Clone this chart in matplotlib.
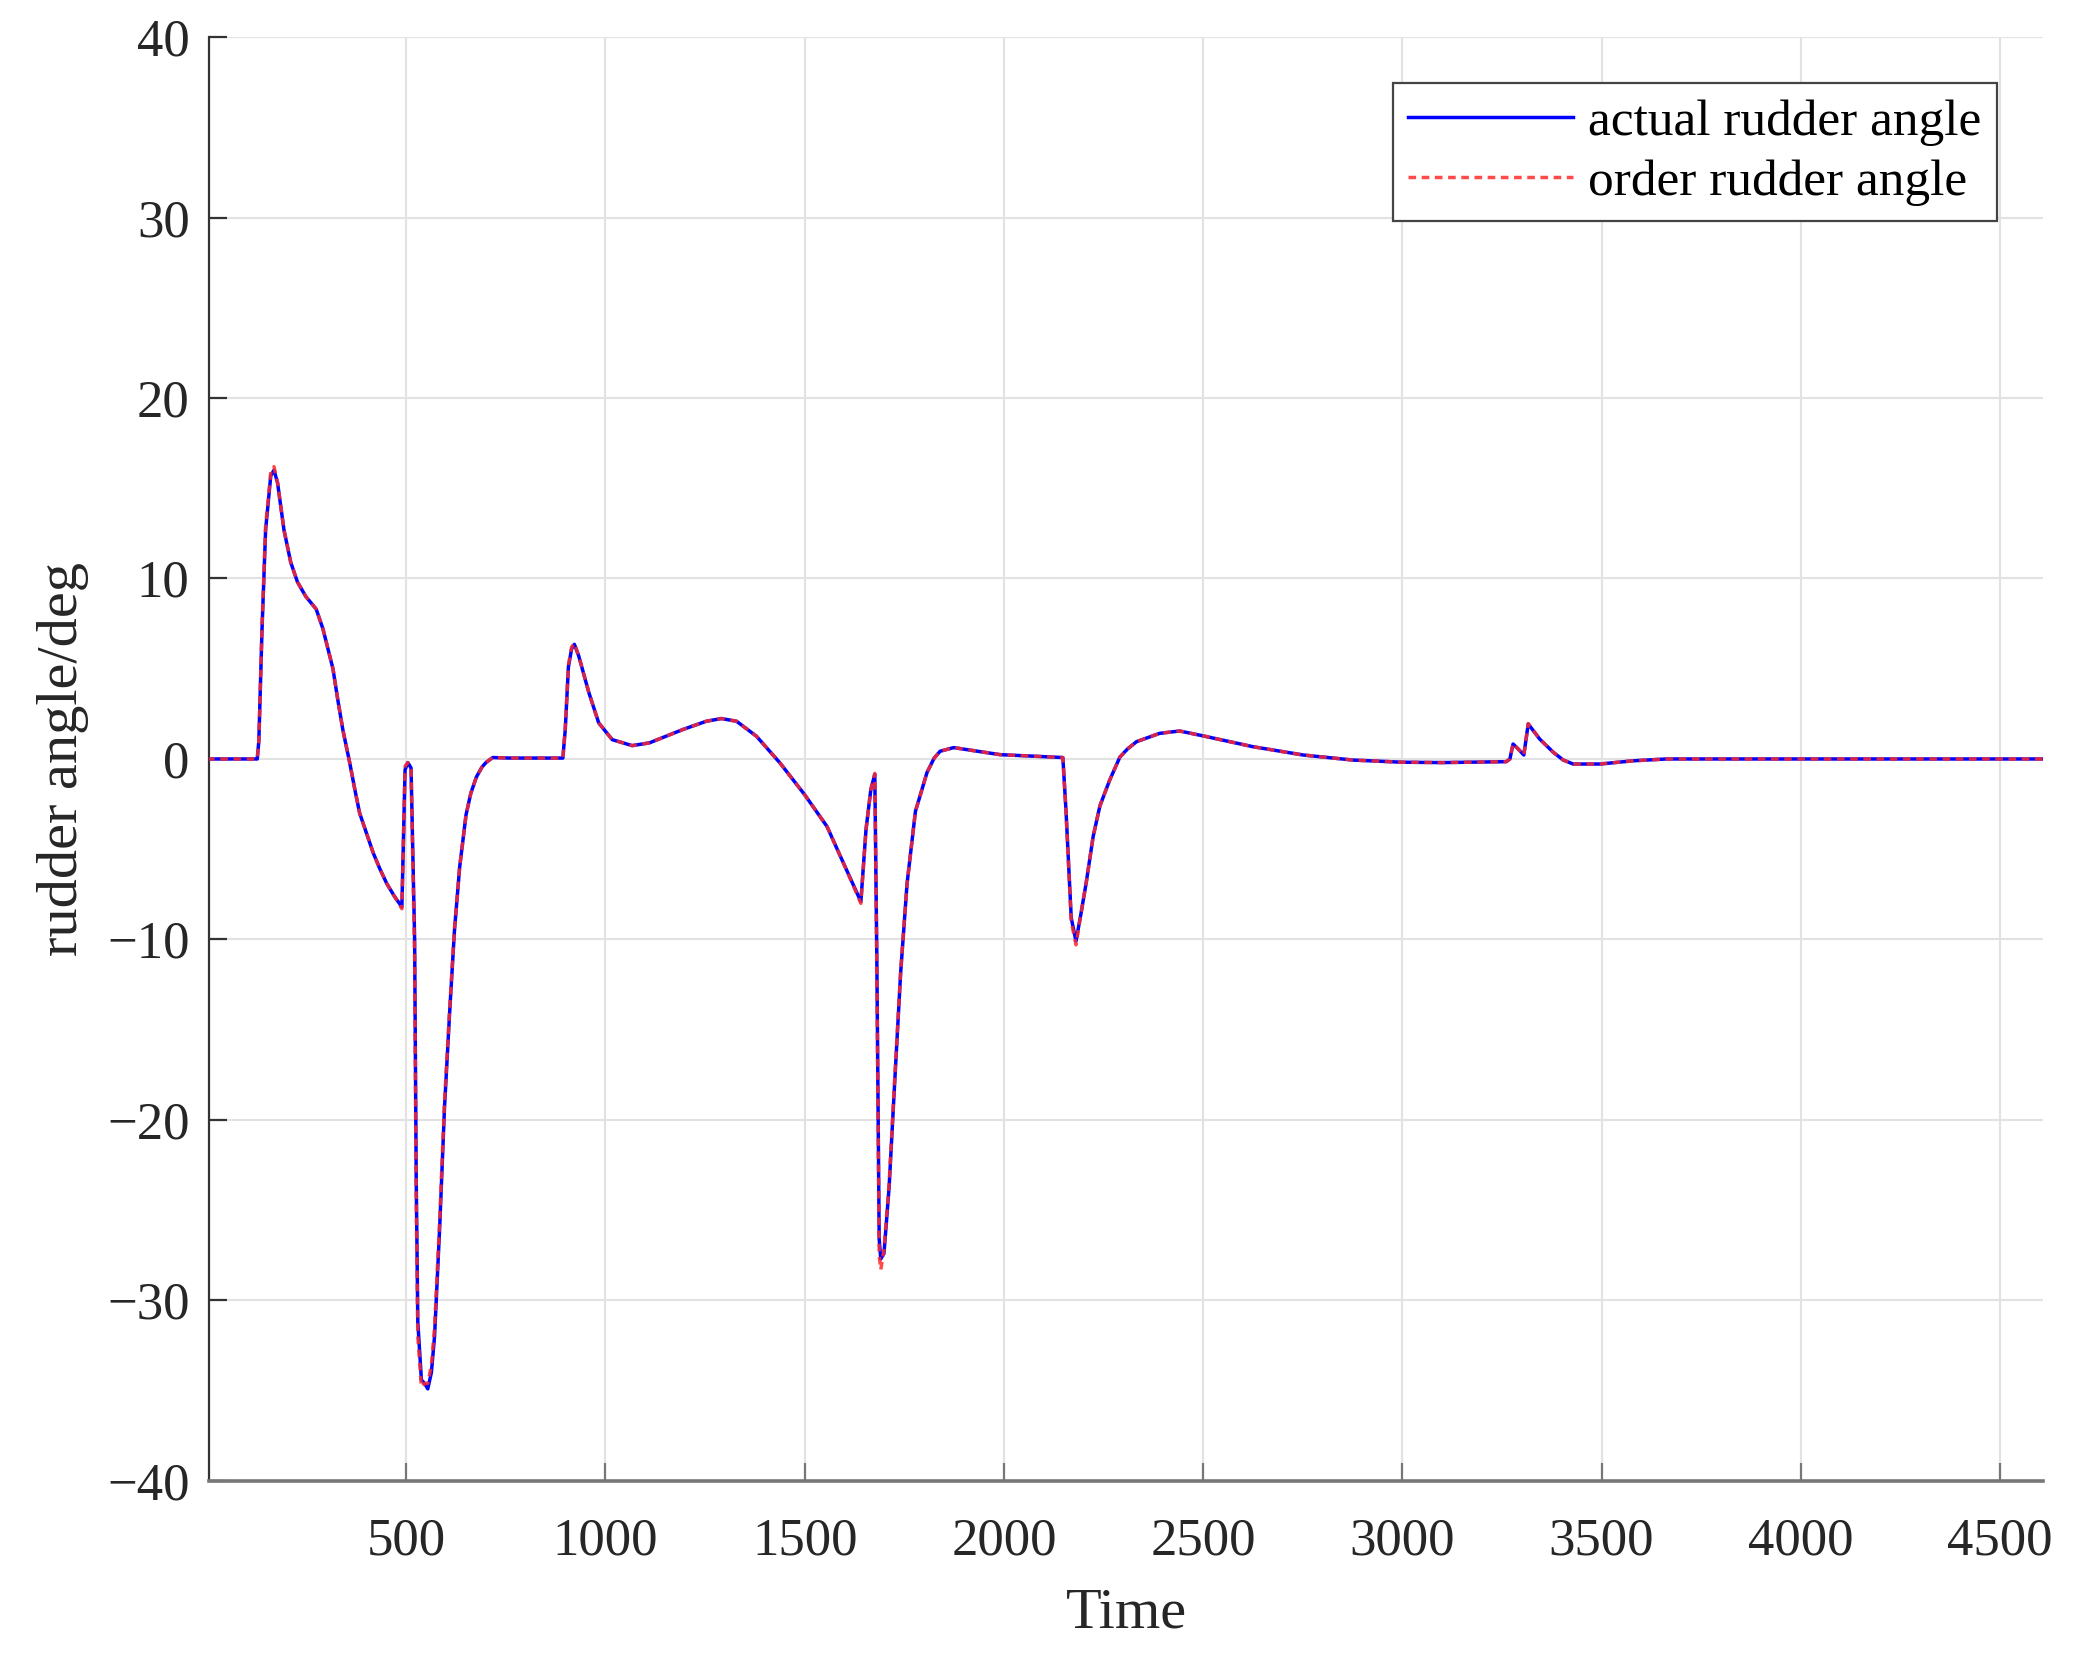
import matplotlib
matplotlib.use("Agg")
import matplotlib.pyplot as plt
from matplotlib.ticker import FixedLocator, FuncFormatter

# ---- data ----
time = [0, 126, 130, 138, 147, 160, 168, 177, 193, 210, 227, 248, 274, 291, 316, 328, 341, 358,
        371, 383, 400, 417, 434, 451, 470, 489, 497, 504, 512, 521, 525, 529, 538, 546, 554,
        563, 571, 584, 596, 609, 621, 634, 650, 662, 676, 690, 700, 717, 760, 893, 899, 907,
        915, 922, 933, 958, 983, 1017, 1067, 1110, 1194, 1253, 1291, 1329, 1379, 1438, 1500,
        1556, 1600, 1641, 1654, 1666, 1676, 1681, 1687, 1691, 1699, 1712, 1724, 1741, 1757,
        1778, 1807, 1825, 1840, 1874, 1990, 2148, 2156, 2169, 2181, 2194, 2207, 2224, 2241,
        2265, 2291, 2310, 2333, 2391, 2441, 2500, 2625, 2751, 2876, 3000, 3100, 3261, 3270,
        3278, 3291, 3305, 3316, 3345, 3379, 3404, 3429, 3496, 3580, 3663, 4608]

actual_rudder = [0, 0, 1.0, 7.2, 12.7, 15.7, 16.0, 15.3, 12.7, 10.9, 9.8, 9.0, 8.3, 7.2, 5.0,
                 3.3, 1.6, -0.2, -1.7, -3.0, -4.1, -5.2, -6.1, -6.9, -7.6, -8.2, -0.6, -0.2,
                 -0.5, -10.0, -23.3, -31.2, -34.4, -34.6, -34.9, -34.0, -32.0, -25.9, -19.3,
                 -14.0, -9.5, -6.0, -3.1, -1.9, -1.0, -0.45, -0.2, 0.08, 0.05, 0.05, 1.6, 5.1,
                 6.1, 6.35, 5.7, 3.7, 2.0, 1.07, 0.74, 0.89, 1.63, 2.09, 2.24, 2.09, 1.26, -0.22,
                 -1.98, -3.74, -5.9, -7.9, -3.9, -1.7, -0.85, -10.8, -26.6, -27.7, -27.4, -23.7,
                 -18.7, -11.8, -6.9, -2.9, -0.75, 0.05, 0.43, 0.63, 0.24, 0.08, -2.9, -8.8,
                 -10.1, -8.5, -6.8, -4.3, -2.6, -1.2, 0.1, 0.55, 0.96, 1.42, 1.55, 1.28, 0.68,
                 0.22, -0.06, -0.18, -0.2, -0.15, 0.0, 0.83, 0.55, 0.22, 1.94, 1.1, 0.37, -0.06,
                 -0.28, -0.28, -0.1, 0.0, 0.0]

order_rudder = [0, 0, 1.0, 7.4, 12.9, 15.9, 16.2, 15.3, 12.7, 10.9, 9.8, 9.0, 8.3, 7.2, 5.0,
                3.3, 1.6, -0.2, -1.7, -3.0, -4.1, -5.2, -6.1, -6.9, -7.6, -8.3, -0.4, -0.2,
                -0.6, -11.0, -24.5, -32.0, -34.8, -34.6, -34.6, -33.6, -31.5, -25.5, -19.0,
                -13.8, -9.4, -6.0, -3.1, -1.9, -1.0, -0.45, -0.2, 0.08, 0.05, 0.05, 1.7, 5.2,
                6.2, 6.4, 5.7, 3.7, 2.0, 1.07, 0.74, 0.89, 1.63, 2.09, 2.24, 2.09, 1.26, -0.22,
                -1.98, -3.74, -5.9, -8.0, -3.9, -1.7, -0.8, -11.5, -27.5, -28.3, -27.2, -23.5,
                -18.5, -11.7, -6.9, -2.9, -0.75, 0.05, 0.43, 0.63, 0.24, 0.08, -3.0, -9.0,
                -10.3, -8.5, -6.8, -4.3, -2.6, -1.2, 0.1, 0.55, 0.96, 1.42, 1.55, 1.28, 0.68,
                0.22, -0.06, -0.18, -0.2, -0.15, 0.0, 0.85, 0.55, 0.22, 1.96, 1.1, 0.37, -0.06,
                -0.28, -0.28, -0.1, 0.0, 0.0]

x_ticks = [500, 1000, 1500, 2000, 2500, 3000, 3500, 4000, 4500]
y_ticks = [-40, -30, -20, -10, 0, 10, 20, 30, 40]
legend_labels = ["actual rudder angle", "order rudder angle"]

# ---- figure ----
plt.rcParams['font.family'] = ['Liberation Serif', 'DejaVu Serif']
plt.rcParams['axes.unicode_minus'] = True

fig = plt.figure(figsize=(20.8, 16.53), dpi=100)
ax = fig.add_axes([0.1005, 0.1041, 0.8817, 0.8735])

ax.plot(time, actual_rudder, color='#0000FF', lw=2.5, label=legend_labels[0], zorder=3)
ax.plot(time, order_rudder, color='#FF2A2A', lw=2.5, ls=(0, (2.2, 1.6)), alpha=0.85,
        label=legend_labels[1], zorder=4)

ax.set_xlim(5, 4608)
ax.set_ylim(-40, 40)
ax.xaxis.set_major_locator(FixedLocator(x_ticks))
ax.yaxis.set_major_locator(FixedLocator(y_ticks))
ax.yaxis.set_major_formatter(FuncFormatter(lambda v, p: f"{int(v)}".replace('-', '\u2212')))

ax.grid(True, color='#E2E2E2', lw=1.5, zorder=0)
ax.set_axisbelow(True)

for s in ['top', 'right']:
    ax.spines[s].set_visible(False)
ax.spines['left'].set_color('#333333')
ax.spines['left'].set_linewidth(1.6)
ax.spines['bottom'].set_color('#777777')
ax.spines['bottom'].set_linewidth(2.6)

ax.tick_params(axis='y', direction='in', length=13, width=1.6, colors='#333333',
               labelsize=38, pad=14, labelcolor='#262626')
ax.tick_params(axis='x', direction='in', length=13, width=1.6, colors='#777777',
               labelsize=38, pad=26, labelcolor='#262626')

ax.set_xlabel('Time', fontsize=42, color='#262626', labelpad=16)
ax.set_ylabel('rudder angle/deg', fontsize=42, color='#262626', labelpad=13)

leg = ax.legend(loc='upper right', fontsize=37, frameon=True, fancybox=False,
                framealpha=1, edgecolor='#444444', handlelength=3.2,
                handletextpad=0.3, labelspacing=0.26, borderpad=0.3, borderaxespad=0.9)
leg.get_frame().set_linewidth(1.6)

fig.savefig('out.png', dpi=100)
